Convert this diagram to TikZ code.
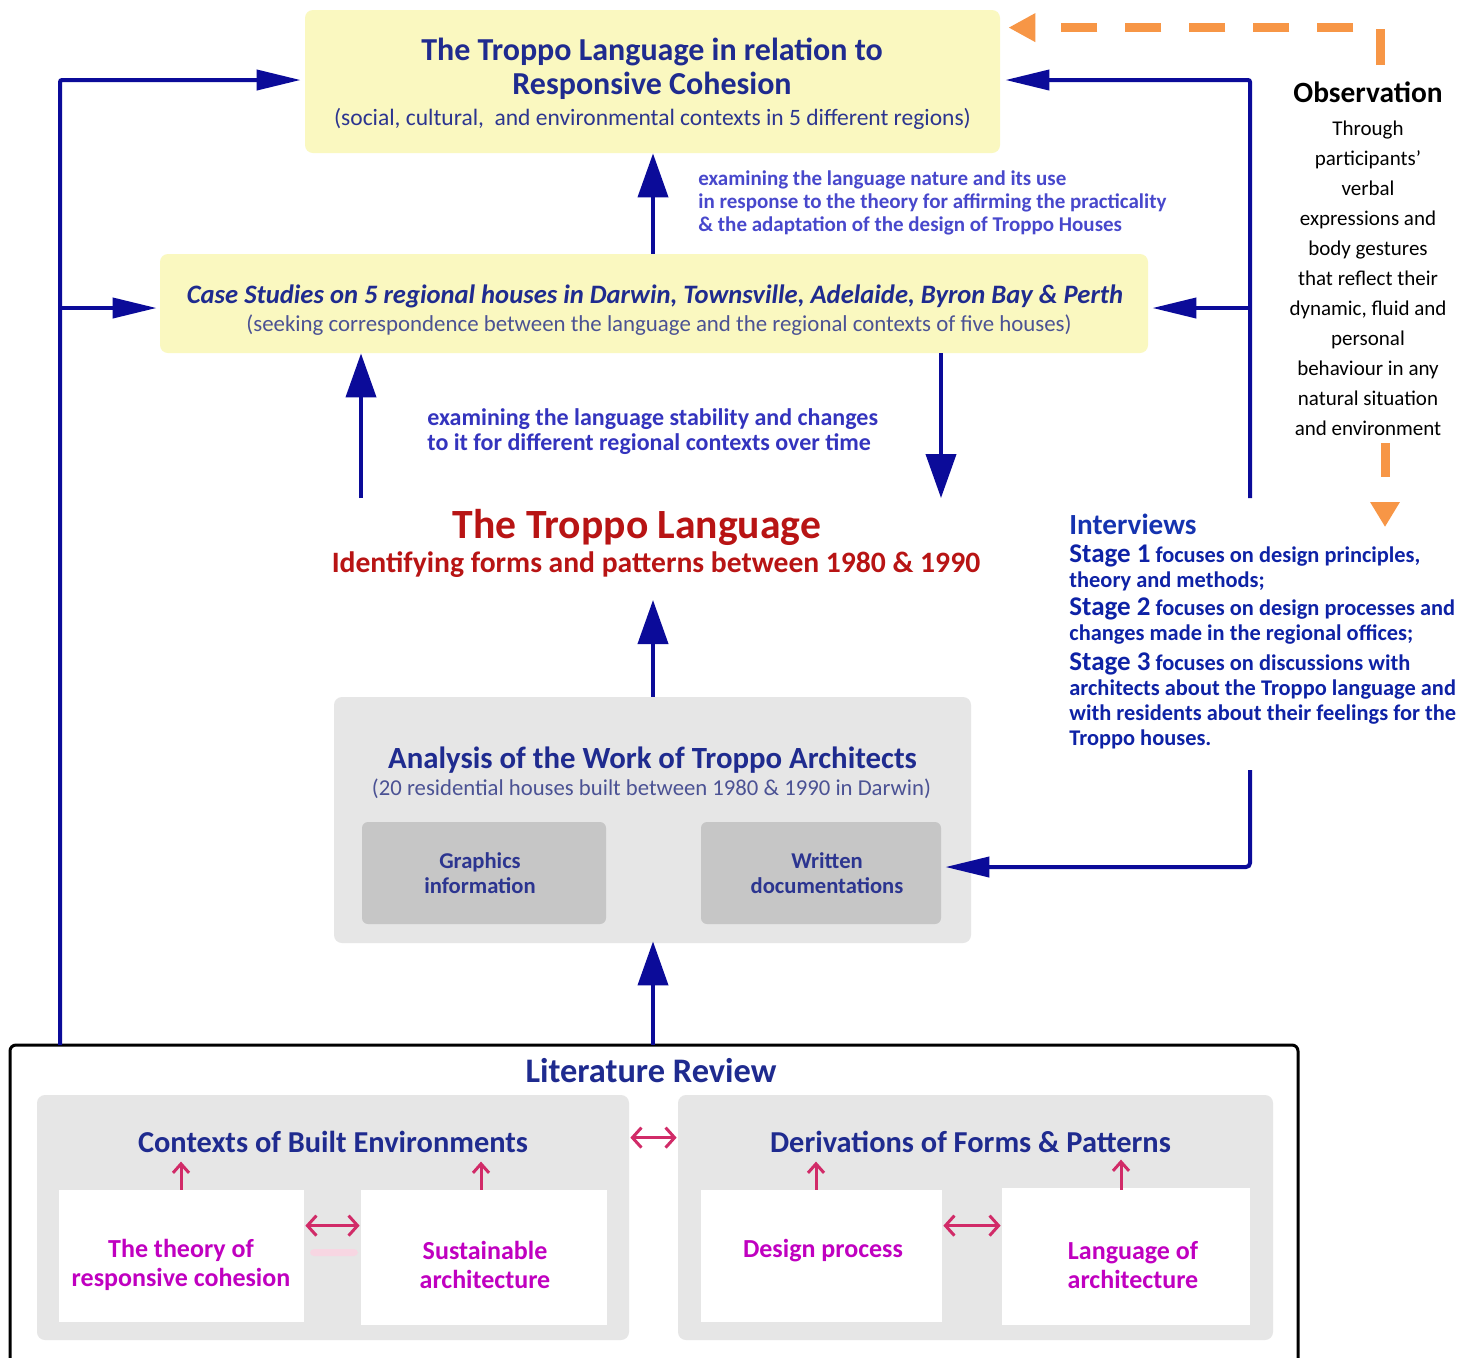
\documentclass[tikz,border=0pt]{standalone}
\usepackage{fontspec}
\setmainfont{Carlito}
\usetikzlibrary{arrows.meta,calc}
\definecolor{navy}{HTML}{1F2B8F}
\definecolor{navysub}{HTML}{2C3590}
\definecolor{greyblue}{HTML}{4B5294}
\definecolor{arrowblue}{HTML}{0B0B99}
\definecolor{lblblue}{HTML}{4848CC}
\definecolor{lblblue2}{HTML}{3434BE}
\definecolor{ivblue}{HTML}{1533B0}
\definecolor{stblue}{HTML}{0E22A6}
\definecolor{troppored}{HTML}{B81414}
\definecolor{ybox}{HTML}{FAF8C0}
\definecolor{gpanel}{HTML}{E6E6E6}
\definecolor{ginner}{HTML}{C6C6C6}
\definecolor{magtext}{HTML}{C000C0}
\definecolor{pinkc}{HTML}{D12B68}
\definecolor{pinkfaint}{HTML}{F7D6E2}
\definecolor{orng}{HTML}{F79646}
\newcommand\myfs[2]{\fontsize{#1}{#2}\selectfont}
\begin{document}
\begin{tikzpicture}[x=0.5pt,y=-0.5pt,
  yellowbox/.style={fill=ybox, draw=none, rounded corners=4pt, inner sep=0pt},
  greybox/.style={fill=gpanel, draw=none, rounded corners=4pt, inner sep=0pt},
  innerbox/.style={fill=ginner, draw=none, rounded corners=3pt, inner sep=0pt},
  whitebox/.style={fill=white, draw=none, inner sep=0pt},
  blueline/.style={draw=arrowblue, line width=2pt},
  varrow/.style={blueline, -{Triangle[length=22pt,width=15pt]}},
  harrow/.style={blueline, -{Triangle[length=22pt,width=10pt]}},
  odash/.style={draw=orng, line width=4.5pt, dash pattern=on 18pt off 14pt, -{Triangle[length=13.5pt,width=13.5pt]}},
  odashb/.style={draw=orng, line width=4.5pt, dash pattern=on 17pt off 20pt, -{Triangle[length=12.5pt,width=14pt]}},
  parrow/.style={draw=pinkc, line width=1.5pt, -{Straight Barb[length=4.5pt,width=8pt]}},
  pdbl/.style={draw=pinkc, line width=1.5pt, {Straight Barb[length=4.5pt,width=10pt]}-{Straight Barb[length=4.5pt,width=10pt]}},
  magtxt/.style={text=magtext, font=\bfseries\myfs{13}{14.5}, align=center},
  paneltitle/.style={text=navy, font=\bfseries\myfs{15.2}{17}},
  innertxt/.style={text=navysub, font=\bfseries\myfs{11.3}{12.5}, align=center},
]
\useasboundingbox (0,0) rectangle (1467,1357);
\fill[white] (0,0) rectangle (1467,1357);

% ---------- boxes ----------
\node[yellowbox, minimum width=347.5pt, minimum height=71.5pt] (top) at (652.5,81.5) {};
\node[yellowbox, minimum width=494pt, minimum height=49.5pt] (case) at (654,303.5) {};
\node[greybox, minimum width=318.5pt, minimum height=123pt] (analysis) at (652.5,820) {};
\node[innerbox, minimum width=122pt, minimum height=51pt] (graphics) at (484,873) {};
\node[innerbox, minimum width=120pt, minimum height=51pt] (written) at (821,873) {};
\node[innertxt] (graphicsT) at (480,873) {Graphics\\information};
\node[innertxt] (writtenT) at (827,873) {Written\\documentations};

% ---------- top box texts ----------
\node[text=navy, font=\bfseries\myfs{16}{17}, align=center] (topT) at (652,69) {The Troppo Language in relation to\\Responsive Cohesion};
\node[text=navysub, font=\myfs{11.75}{14}] (topS) at (652.5,119) {(social, cultural,\ \ and environmental contexts in 5 different regions)};

\node[text=navy, font=\bfseries\itshape\myfs{13.3}{15}] (caseT) at (655,296) {Case Studies on 5 regional houses in Darwin, Townsville, Adelaide, Byron Bay \& Perth};
\node[text=greyblue, font=\myfs{11.43}{13}] (caseS) at (659,325) {(seeking correspondence between the language and the regional contexts of five houses)};

\node[text=lblblue, font=\bfseries\myfs{10.5}{11.5}, align=left, anchor=west, inner sep=0pt] (lbl1) at (698,203) {examining the language nature and its use\\in response to the theory for affirming the practicality\\\& the adaptation of the design of Troppo Houses};
\node[text=lblblue2, font=\bfseries\myfs{12}{12.5}, align=left, anchor=west, inner sep=0pt] (lbl2) at (427,431.5) {examining the language stability and changes\\to it for different regional contexts over time};

% ---------- Troppo language ----------
\node[text=troppored, font=\bfseries\myfs{20.8}{22}] (troppo) at (637,527) {The Troppo Language};
\node[text=troppored, font=\bfseries\myfs{14.8}{16}] (troppoS) at (656,565) {Identifying forms and patterns between 1980 \& 1990};

% ---------- analysis texts ----------
\node[text=navy, font=\bfseries\myfs{15.4}{17}] (anT) at (652.5,760) {Analysis of the Work of Troppo Architects};
\node[text=greyblue, font=\myfs{11.36}{13}] (anS) at (651.5,789) {(20 residential houses built between 1980 \& 1990 in Darwin)};

% ---------- literature review ----------
\node[minimum width=644pt, minimum height=160pt, inner sep=0pt] (lit) at (654,1205) {};
\draw[black, line width=1.5pt, rounded corners=3pt] (10,1370) -- (10,1045) -- (1298,1045) -- (1298,1370);
\node[text=navy, font=\bfseries\myfs{17.2}{19}] (litT) at (651,1071) {Literature Review};

\node[greybox, minimum width=296pt, minimum height=122.5pt] (pL) at (333,1217.5) {};
\node[greybox, minimum width=297.5pt, minimum height=122.5pt] (pR) at (975.5,1217.5) {};
\node[paneltitle] (pLT) at (333,1142) {Contexts of Built Environments};
\node[paneltitle] (pRT) at (970.5,1142) {Derivations of Forms \& Patterns};

\node[whitebox, minimum width=122.5pt, minimum height=66pt] (wA) at (181.5,1256) {};
\node[whitebox, minimum width=123pt, minimum height=67.5pt] (wB) at (484,1257.5) {};
\node[whitebox, minimum width=120.5pt, minimum height=66pt] (wC) at (821.5,1256) {};
\node[whitebox, minimum width=124pt, minimum height=68.5pt] (wD) at (1126,1256.5) {};
\node[magtxt] (wAT) at (181,1265) {The theory of\\responsive cohesion};
\node[magtxt] (wBT) at (485,1265) {Sustainable\\architecture};
\node[magtxt] (wCT) at (823,1251) {Design process};
\node[magtxt] (wDT) at (1133,1265) {Language of\\architecture};

\fill[pinkfaint, rounded corners=2pt] (310,1249) rectangle (358,1256);

\draw[parrow] ($(wA.north)+(-0.5,0)$) -- ++(0,-28);
\draw[parrow] ($(wB.north)+(-3,0)$) -- ++(0,-28);
\draw[parrow] ($(wC.north)+(-5.5,0)$) -- ++(0,-28);
\draw[parrow] ($(wD.north)+(-5,2)$) -- ++(0,-30);
\draw[pdbl] ($(wA.north east)+(1,36)$) -- ($(wB.north west)+(-1,36)$);
\draw[pdbl] ($(wC.north east)+(1,36)$) -- ($(wD.north west)+(-1,38)$);
\draw[pdbl] ($(pL.north east)+(1,43)$) -- ($(pR.north west)+(-1,43)$);

% ---------- observation / interviews ----------
\node[font=\bfseries\myfs{14.7}{16}] (obs) at (1368,92) {Observation};
\node[font=\myfs{10.5}{15}, align=center] (obsT) at (1368,278) {Through\\participants’\\verbal\\expressions and\\body gestures\\that reflect their\\dynamic, fluid and\\personal\\behaviour in any\\natural situation\\and environment};

\node[text=ivblue, font=\bfseries\myfs{14.6}{16}, anchor=west, inner sep=0pt] (iv) at (1069,524) {Interviews};
\node[text=stblue, font=\bfseries\myfs{11.2}{12.5}, align=left, anchor=west, inner sep=0pt] (st1) at (1069,567.5) {{\myfs{13.5}{12.5}Stage 1} focuses on design principles,\\theory and methods;};
\node[text=stblue, font=\bfseries\myfs{11.2}{12.5}, align=left, anchor=west, inner sep=0pt] (st2) at (1069,621.5) {{\myfs{13.5}{12.5}Stage 2} focuses on design processes and\\changes made in the regional offices;};
\node[text=stblue, font=\bfseries\myfs{11.2}{12.5}, align=left, anchor=west, inner sep=0pt] (st3) at (1069,700.5) {{\myfs{13.5}{12.5}Stage 3} focuses on discussions with\\architects about the Troppo language and\\with residents about their feelings for the\\Troppo houses.};

% ---------- blue connectors ----------
\coordinate (L0) at (60,1045);
\coordinate (R0) at (1250,498);
\coordinate (R1) at (1250,770);
\coordinate (a2s) at (361,498);
\coordinate (a3e) at (941,498);
\coordinate (a4e) at (653,600);

\draw[varrow] (case.north -| 653,0) -- (top.south -| 653,0);
\draw[varrow] (a2s) -- (case.south -| a2s);
\draw[varrow] (case.south -| a3e) -- (a3e);
\draw[varrow] (analysis.north -| 653,0) -- (a4e);
\draw[varrow] (lit.north -| 653,0) -- ($(analysis.south -| 653,0)+(0,-2)$);

\draw[harrow, rounded corners=1pt] (L0) |- ($(top.west)+(-4,-1.5)$);
\draw[harrow] ($(L0 |- case.west)+(0,4.5)$) -- ($(case.west)+(-3,4.5)$);
\draw[harrow, rounded corners=1pt] (R0) |- ($(top.east)+(5,-1.5)$);
\draw[harrow] ($(R0 |- case.east)+(0,4.5)$) -- ($(case.east)+(4,4.5)$);
\draw[harrow, rounded corners=2pt] (R1) |- ($(written.east)+(4,-6)$);

% ---------- orange dashed ----------
\coordinate (o1) at (1380,65);
\coordinate (o2) at ($(top.north east)+(8,18)$);
\draw[odash] (o1) |- (o2);
\coordinate (o3) at (1385,443);
\coordinate (o4) at (1385,527);
\draw[odashb] (o3) -- (o4);
\end{tikzpicture}
\end{document}
